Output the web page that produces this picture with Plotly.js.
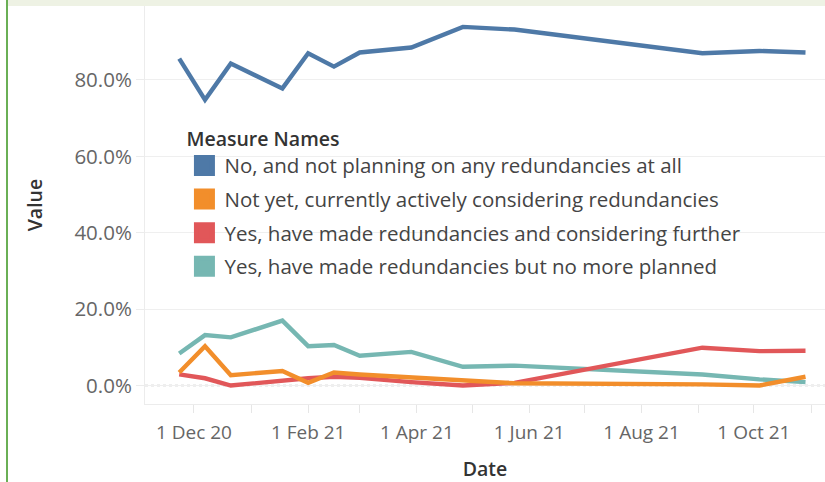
<!DOCTYPE html>
<html>
<head>
<meta charset="utf-8">
<script src="https://cdn.plot.ly/plotly-3.0.1.min.js"></script>
<style>
  html, body { margin: 0; padding: 0; background: #ffffff; }
  #wrap { position: relative; width: 825px; height: 482px; overflow: hidden; }
  #chart { position: absolute; left: 0; top: 0; width: 825px; height: 482px; }
  #band { position: absolute; left: 8px; top: 0; width: 817px; height: 6px; background: #eef2e4; z-index: 2; }
  #edge { position: absolute; left: 6px; top: 0; width: 2px; height: 482px; background: #6aaf55; z-index: 2; }
</style>
</head>
<body>
<div id="wrap">
  <div id="chart"></div>
  <div id="band"></div>
  <div id="edge"></div>
</div>
<script>
// ---- data (values in %) ----
const dates = ['2020-11-23','2020-12-07','2020-12-21','2021-01-18','2021-02-01','2021-02-15',
               '2021-03-01','2021-03-29','2021-04-26','2021-05-24','2021-09-03','2021-10-04','2021-10-29'];
const seriesNames = [
  'No, and not planning on any redundancies at all',
  'Not yet, currently actively considering redundancies',
  'Yes, have made redundancies and considering further',
  'Yes, have made redundancies but no more planned'
];
const noPlanning      = [85.6, 74.8, 84.3, 77.8, 87.0, 83.5, 87.2, 88.5, 93.9, 93.2, 87.0, 87.6, 87.2];
const notYet          = [3.4, 10.3, 2.7, 3.8, 0.7, 3.4, 2.9, 2.1, 1.2, 0.6, 0.3, 0.0, 2.3];
const yesFurther      = [2.9, 1.9, 0.0, 1.4, 1.9, 2.3, 2.0, 0.9, 0.0, 0.7, 9.9, 9.0, 9.1];
const yesNoMore       = [8.4, 13.2, 12.6, 17.0, 10.3, 10.6, 7.8, 8.8, 4.9, 5.2, 2.9, 1.6, 0.9];
const colors = ['#4e79a7', '#f28e2b', '#e15759', '#76b7b2'];
const yTicks = [0, 20, 40, 60, 80];

const allSeries = [noPlanning, notYet, yesFurther, yesNoMore];
const font = '"Open Sans", "Noto Sans", sans-serif';

// draw order: teal, red, orange, blue (blue on top)
const drawOrder = [3, 2, 1, 0];
const traces = [];
drawOrder.forEach(i => {
  traces.push({
    type: 'scatter', mode: 'lines', x: dates, y: allSeries[i], name: seriesNames[i],
    line: { color: colors[i], width: 4.4, shape: 'linear' },
    showlegend: false, hoverinfo: 'x+y'
  });
});
// legend swatches
[0, 1, 2, 3].forEach(i => {
  traces.push({
    type: 'scatter', mode: 'markers', x: [null], y: [null], name: seriesNames[i],
    legendgroup: 'g' + i, legendrank: i + 1,
    marker: { symbol: 'square', size: 16, color: colors[i], line: { color: colors[i], width: 6 } },
    showlegend: true
  });
});

const layout = {
  width: 825, height: 482,
  margin: { l: 145, r: 0, t: 6, b: 78, pad: 0 },
  paper_bgcolor: '#ffffff', plot_bgcolor: '#ffffff',
  font: { family: font, color: '#333333', size: 19 },
  showlegend: true,
  legend: {
    x: 0.058, y: 0.713, xanchor: 'left', yanchor: 'top',
    bgcolor: 'rgba(0,0,0,0)', borderwidth: 0,
    title: { text: 'Measure Names', font: { family: font, size: 19.5, color: '#333333', weight: 600 } },
    font: { family: font, size: 20.5, color: '#444444' },
    tracegroupgap: 4, itemwidth: 30, traceorder: 'grouped'
  },
  xaxis: {
    type: 'date',
    range: ['2020-11-04 10:00', '2021-11-08 14:00'],
    tick0: '2020-12-01', dtick: 'M2', tickformat: '%-d %b %y',
    ticks: 'outside', ticklen: 8, tickcolor: '#e6e6e6', tickwidth: 1,
    ticklabelstandoff: 3,
    minor: { dtick: 'M1', tick0: '2020-12-01', ticks: 'outside', ticklen: 8, tickcolor: '#e6e6e6', showgrid: false },
    showgrid: false, zeroline: false,
    showline: true, linecolor: '#ececec', linewidth: 1,
    tickfont: { family: font, size: 19, color: '#666666' },
    title: { text: 'Date', font: { family: font, size: 19.5, color: '#333333', weight: 600 }, standoff: 21 },
    fixedrange: true
  },
  yaxis: {
    range: [-4.84, 99.37],
    tickvals: yTicks, ticktext: yTicks.map(v => v.toFixed(1) + '%'),
    ticks: 'outside', ticklen: 8, tickcolor: '#ececec',
    showgrid: true, gridcolor: '#efefef', gridwidth: 1,
    zeroline: false,
    showline: true, linecolor: '#ececec', linewidth: 1,
    tickfont: { family: font, size: 20.5, color: '#666666' },
    title: { text: 'Value', font: { family: font, size: 19.5, color: '#333333', weight: 600 }, standoff: 26 },
    fixedrange: true
  },
  shapes: [{
    type: 'line', xref: 'paper', x0: 0, x1: 1, yref: 'y', y0: 0, y1: 0,
    line: { color: '#bdbdbd', width: 1.5, dash: 'dot' }, layer: 'below'
  }]
};

Plotly.newPlot('chart', traces, layout, { displayModeBar: false, staticPlot: true });
</script>
</body>
</html>
